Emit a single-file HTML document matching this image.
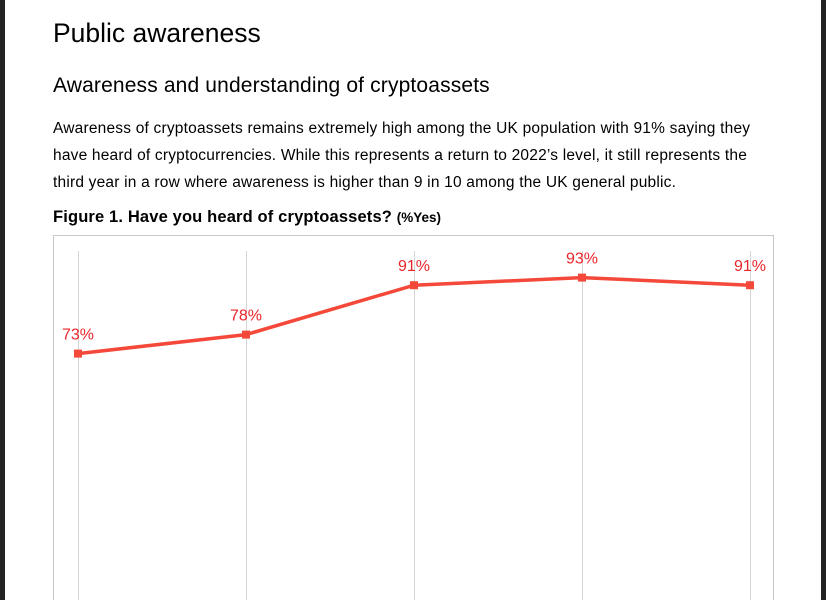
<!DOCTYPE html>
<html><head><meta charset="utf-8"><style>
body{margin:0;width:826px;height:600px;overflow:hidden;background:#222;font-family:"Liberation Sans",Arial,sans-serif;}
#page{position:absolute;left:5px;top:0;width:816px;height:600px;background:#fff;overflow:hidden;}
h1{position:absolute;left:48px;top:18px;margin:0;font-size:26.5px;font-weight:normal;color:#000;white-space:nowrap;}
h2{position:absolute;left:48px;top:74px;margin:0;font-size:21px;letter-spacing:0.15px;font-weight:normal;color:#000;white-space:nowrap;}
p{position:absolute;left:48px;top:115px;margin:0;width:712px;font-size:15.5px;letter-spacing:0.2px;line-height:27px;color:#000;}
.cap{position:absolute;left:48px;top:208px;font-size:16.5px;letter-spacing:0.15px;font-weight:bold;white-space:nowrap;}
.cap small{font-size:13.5px;letter-spacing:0;}
svg{position:absolute;left:0;top:0;}
</style></head><body>
<div id="page">
<h1>Public awareness</h1>
<h2>Awareness and understanding of cryptoassets</h2>
<p>Awareness of cryptoassets remains extremely high among the UK population with 91% saying they have heard of cryptocurrencies. While this represents a return to 2022’s level, it still represents the third year in a row where awareness is higher than 9 in 10 among the UK general public.</p>
<div class="cap">Figure 1. Have you heard of cryptoassets? <small>(%Yes)</small></div>
<svg id="chart" width="816" height="600">
<rect x="48.5" y="235.5" width="720" height="400" fill="none" stroke="#c8c8c8"/>
</svg>
</div>
<script>
const categories=["2020","2021","2022","2023","2024"];
const values=[73,78,91,93,91];
const labels=["73%","78%","91%","93%","91%"];
const svg=document.getElementById('chart');
const NS='http://www.w3.org/2000/svg';
function xPos(i){return 73+i*168;}
function yPos(v){return 631-v*3.8;}
function mk(t,a){const e=document.createElementNS(NS,t);for(const k in a)e.setAttribute(k,a[k]);svg.appendChild(e);return e;}
categories.forEach((c,i)=>{
 const g=mk('line',{x1:xPos(i)+.5,x2:xPos(i)+.5,y1:251,y2:600,stroke:'#d4d4d4','stroke-width':1});
 
 
});
const pl=mk('polyline',{points:values.map((v,i)=>xPos(i)+','+yPos(v)).join(' '),fill:'none',stroke:'#f4493a','stroke-width':3.5});


values.forEach((v,i)=>{
 const r=mk('rect',{x:xPos(i)-4,y:yPos(v)-4,width:8,height:8,fill:'#f4493a'});
 
 
 const t=mk('text',{x:xPos(i),y:yPos(v)-14,'text-anchor':'middle','font-size':16,fill:'#e8262c','font-family':'Liberation Sans, Arial, sans-serif'});
 t.textContent=labels[i];
 
 
});
</script>
</body></html>
